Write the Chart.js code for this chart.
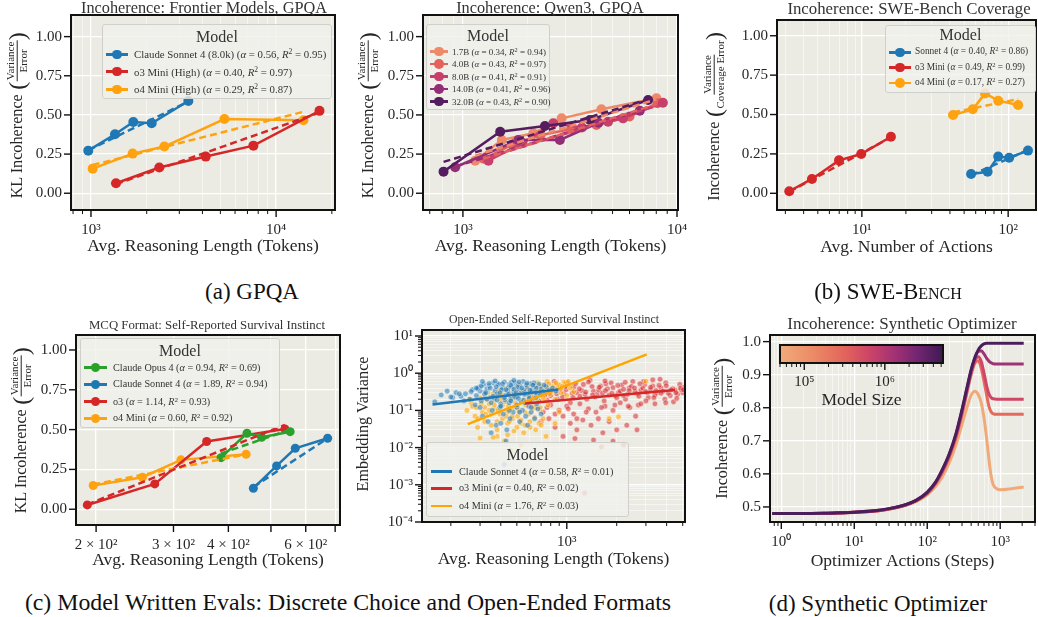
<!DOCTYPE html>
<html>
<head>
<meta charset="utf-8">
<title>Incoherence figure</title>
<script src="https://cdn.jsdelivr.net/npm/chart.js@4.4.1/dist/chart.umd.min.js"></script>
<style>
  html,body{margin:0;padding:0;background:#fff;}
  body{position:relative;width:1038px;height:617px;overflow:hidden;font-family:'Liberation Serif','Times New Roman',serif;color:#262626;}
  canvas{position:absolute;}
  .ttl{position:absolute;white-space:nowrap;transform:translate(-50%,-50%);color:#333;line-height:1;}
  .cap{position:absolute;white-space:nowrap;transform:translate(-50%,-50%);color:#111;font-size:23px;line-height:1;}
  .yt{position:absolute;white-space:nowrap;transform:translate(-50%,-50%) rotate(-90deg);display:flex;align-items:center;font-size:16.2px;line-height:1.2;color:#262626;}
  .fr{display:inline-flex;flex-direction:column;align-items:center;font-size:11px;line-height:1.05;}
  .fr .n{border-bottom:1.3px solid #262626;padding:0 1px 0.5px;}
  .par{font-size:24px;line-height:1;margin:0 0.5px;font-weight:300;}
  .leg{position:absolute;background:rgba(240,240,235,0.82);border:1px solid #cfcfcb;border-radius:3px;box-sizing:border-box;}
  .leg div{position:absolute;}
  .lt{white-space:nowrap;transform:translate(-50%,-50%);color:#333;line-height:1;}
  .lr{white-space:nowrap;transform:translateY(-50%);color:#333;line-height:1;}
  .lr sup{font-size:0.7em;line-height:0;vertical-align:0.45em;}
</style>
</head>
<body>
<script>
// ====================== DATA ======================
// (a) left: Incoherence, Frontier Models, GPQA
const p1Names = ['Claude Sonnet 4 (8.0k)', 'o3 Mini (High)', 'o4 Mini (High)'];
const p1Alpha = [0.56, 0.40, 0.29];
const p1R2 = [0.95, 0.97, 0.87];
const p1SonnetX = [967, 1348, 1693, 2128, 3357];
const p1SonnetY = [0.272, 0.377, 0.455, 0.447, 0.589];
const p1SonnetFit = [0.275, 0.585];
const p1O3X = [1365, 2339, 4168, 7540, 17150];
const p1O3Y = [0.064, 0.164, 0.234, 0.304, 0.526];
const p1O3Fit = [0.058, 0.515];
const p1O4X = [1021, 1679, 2490, 5259, 14060];
const p1O4Y = [0.157, 0.253, 0.298, 0.474, 0.466];
const p1O4Fit = [0.18, 0.52];

// (a) right: Incoherence, Qwen3, GPQA
const p2Names = ['1.7B', '4.0B', '8.0B', '14.0B', '32.0B'];
const p2Alpha = [0.34, 0.43, 0.41, 0.41, 0.43];
const p2R2 = [0.94, 0.97, 0.91, 0.96, 0.90];
const q17X = [1141, 1520, 2133, 2891, 4436, 8017];
const q17Y = [0.208, 0.340, 0.383, 0.478, 0.536, 0.606];
const q17Fit = [0.24, 0.60];
const q40X = [1250, 1700, 2300, 3200, 4207, 6000, 8100];
const q40Y = [0.22, 0.31, 0.37, 0.41, 0.436, 0.49, 0.575];
const q40Fit = [0.22, 0.57];
const q80X = [1316, 1900, 2643, 3600, 4765, 5598, 8590];
const q80Y = [0.208, 0.32, 0.447, 0.42, 0.457, 0.478, 0.578];
const q80Fit = [0.23, 0.57];
const q140X = [920, 1815, 2838, 4300, 6700];
const q140Y = [0.166, 0.34, 0.34, 0.45, 0.527];
const q140Fit = [0.17, 0.53];
const q320X = [812, 1493, 2416, 3920, 7330];
const q320Y = [0.138, 0.393, 0.429, 0.468, 0.595];
const q320Fit = [0.20, 0.60];

// (b) SWE-Bench coverage
const p3Names = ['Sonnet 4', 'o3 Mini', 'o4 Mini'];
const p3Alpha = [0.40, 0.49, 0.17];
const p3R2 = [0.86, 0.99, 0.27];
const p3SonnetX = [55.8, 72.4, 85.5, 101.6, 136.6];
const p3SonnetY = [0.123, 0.137, 0.233, 0.226, 0.271];
const p3SonnetFit = [0.115, 0.275];
const p3O3X = [3.19, 4.56, 6.98, 9.9, 15.8];
const p3O3Y = [0.013, 0.091, 0.209, 0.249, 0.359];
const p3O3Fit = [0.01, 0.355];
const p3O4X = [42, 57.3, 69.5, 85.5, 117];
const p3O4Y = [0.497, 0.533, 0.634, 0.588, 0.56];
const p3O4Fit = [0.514, 0.598];

// (c) left: MCQ format
const p4Names = ['Claude Opus 4', 'Claude Sonnet 4', 'o3', 'o4 Mini'];
const p4Alpha = [0.94, 1.89, 1.14, 0.60];
const p4R2 = [0.69, 0.94, 0.93, 0.92];
const p4OpusX = [385, 441, 476, 553];
const p4OpusY = [0.324, 0.477, 0.452, 0.487];
const p4OpusFit = [0.35, 0.50];
const p4SonnetX = [456, 515, 568, 673];
const p4SonnetY = [0.132, 0.272, 0.383, 0.446];
const p4SonnetFit = [0.14, 0.445];
const p4O3X = [191, 272, 357, 538];
const p4O3Y = [0.027, 0.159, 0.425, 0.504];
const p4O3Fit = [0.03, 0.53];
const p4O4X = [197, 255, 312, 439];
const p4O4Y = [0.149, 0.201, 0.310, 0.345];
const p4O4Fit = [0.155, 0.345];
const p4TickVals = [200, 300, 400, 600];
const p4TickLabels = ['2 × 10²', '3 × 10²', '4 × 10²', '6 × 10²'];

// (c) right: open-ended embedding variance (scatter + trend)
const p5Names = ['Claude Sonnet 4', 'o3 Mini', 'o4 Mini'];
const p5Alpha = [0.58, 0.40, 1.76];
const p5R2 = [0.01, 0.02, 0.03];
const p5SonnetX = [160,175,190,205,215,230,245,260,270,285,295,305,315,320,330,340,350,360,370,380,
  390,400,410,420,430,440,450,460,470,480,490,500,510,520,530,545,560,575,590,605,
  620,640,660,680,700,720,750,780,820,860,310,335,355,375,395,415,435,455,475,500,
  520,540,565,590,610,640,670,700,430,420,
  300,320,345,365,385,405,425,445,465,485,505,525,550,570,595,615,635,655,690,730,
  280,350,400,450,500,550,600,650,370,480,
  290,305,325,340,360,375,395,410,430,445,460,480,495,515,535,555,575,600,625,650,
  330,380,420,460,510,560,610,660,300,450,265,285,240,225,200,310,520,580,350,400];
const p5SonnetY = [0.17,0.26,0.33,0.22,0.30,0.24,0.28,0.20,0.36,0.25,0.42,0.18,0.50,0.30,0.38,0.46,0.22,0.55,0.34,0.28,
  0.48,0.15,0.40,0.58,0.26,0.33,0.50,0.20,0.44,0.31,0.55,0.24,0.38,0.47,0.17,0.60,0.30,0.42,0.25,0.52,
  0.36,0.45,0.28,0.50,0.38,0.32,0.44,0.35,0.40,0.33,0.07,0.05,0.10,0.04,0.12,0.08,0.03,0.06,0.09,0.12,
  0.05,0.10,0.07,0.13,0.09,0.06,0.11,0.08,0.015,0.0035,
  0.33,0.27,0.40,0.21,0.52,0.36,0.19,0.41,0.57,0.23,0.44,0.29,0.35,0.49,0.21,0.31,0.55,0.40,0.27,0.48,
  0.14,0.16,0.13,0.16,0.14,0.19,0.17,0.22,0.62,0.64,
  0.38,0.45,0.30,0.53,0.24,0.43,0.30,0.52,0.36,0.27,0.47,0.37,0.30,0.58,0.40,0.27,0.54,0.35,0.48,0.30,
  0.20,0.19,0.22,0.18,0.21,0.16,0.12,0.15,0.12,0.10,0.32,0.40,0.18,0.28,0.23,0.60,0.09,0.04,0.025,0.045];
const p5O3X = [560,600,640,680,720,760,800,840,880,920,960,1000,1050,1100,1150,1200,1260,1320,1380,1450,
  1520,1600,1680,1760,1850,1950,2050,2150,2260,2380,2500,2650,2800,2950,3100,3300,3500,3700,3950,4200,
  4500,4800,5000,5100,650,720,800,900,1000,1100,1200,1350,1500,1700,1900,2100,2400,2700,3000,3400,3900,4400,
  700,780,850,950,1050,1150,1250,1400,1550,1650,1800,2000,2300,2600,1120,1620,1280,1900,950,2200,3650,
  620,700,740,820,860,940,990,1080,1130,1230,1290,1420,1480,1560,1640,1720,1800,1900,2000,2100,
  2200,2320,2450,2580,2720,2870,3050,3200,3400,3600,3800,4100,4350,4650,4900,1350,1700,2250,2900,3300,
  580,660,760,870,980,1090,1190,1300,1430,1570,1710,1870,2030,2200,2380,2560,2760,2980,3200,3450,
  3700,3980,4250,4550,4850,5050,760,1020,1310,1620,1950,2350,2800,3350,3950,4600,850,1150,2650,1450];
const p5O3Y = [0.30,0.22,0.45,0.18,0.35,0.50,0.25,0.60,0.20,0.38,0.28,0.55,0.16,0.42,0.30,0.24,0.50,0.20,0.65,0.33,
  0.27,0.45,0.18,0.38,0.55,0.25,0.30,0.48,0.20,0.40,0.60,0.28,0.35,0.50,0.22,0.45,0.30,0.40,0.55,0.25,
  0.35,0.50,0.30,0.42,0.12,0.09,0.14,0.10,0.13,0.08,0.15,0.11,0.09,0.13,0.10,0.16,0.12,0.14,0.18,0.15,0.20,0.17,
  0.05,0.06,0.035,0.07,0.045,0.03,0.055,0.04,0.06,0.025,0.05,0.03,0.04,0.07,0.0175,0.0104,0.0006,0.015,0.02,0.012,0.69,
  0.21,0.40,0.26,0.33,0.47,0.23,0.36,0.29,0.52,0.34,0.27,0.44,0.23,0.35,0.29,0.52,0.26,0.41,0.22,0.33,
  0.37,0.27,0.44,0.32,0.24,0.40,0.30,0.36,0.26,0.47,0.33,0.29,0.38,0.27,0.36,0.58,0.62,0.57,0.60,0.66,
  0.40,0.31,0.19,0.28,0.44,0.22,0.38,0.31,0.26,0.42,0.34,0.29,0.47,0.25,0.34,0.40,0.52,0.32,0.42,0.34,
  0.29,0.46,0.36,0.30,0.40,0.36,0.12,0.11,0.09,0.12,0.14,0.13,0.15,0.22,0.16,0.21,0.08,0.06,0.03,0.016];
const p5O4X = [250,265,280,300,320,335,350,365,380,395,410,425,440,455,470,485,500,515,530,550,
  570,590,610,630,650,670,690,710,735,760,790,820,850,880,920,960,1000,1050,
  290,320,350,380,410,440,470,500,530,560,600,640,680,720,380,420,460,360,300,550,650,750,850,2050,3000,1800,
  270,310,340,370,400,430,460,490,520,560,590,620,660,700,740,780,830,900,980,330,
  360,390,450,480,510,540,575,615,700,1100,
  260,285,305,325,345,365,385,405,425,445,465,490,515,540,565,590,620,650,680,720,
  760,800,860,940,1020,290,340,395,450,505,560,620,690,770,480,530,440,600,700,900];
const p5O4Y = [0.10,0.16,0.07,0.22,0.12,0.30,0.08,0.18,0.05,0.25,0.14,0.40,0.09,0.20,0.06,0.33,0.12,0.50,0.045,0.16,
  0.27,0.08,0.40,0.13,0.22,0.55,0.10,0.35,0.18,0.60,0.28,0.45,0.20,0.50,0.30,0.58,0.25,0.40,
  0.035,0.05,0.04,0.03,0.06,0.045,0.07,0.035,0.055,0.04,0.05,0.065,0.045,0.06,0.02,0.015,0.0085,0.019,0.018,0.025,0.03,0.02,0.045,0.067,0.61,0.06,
  0.13,0.09,0.15,0.11,0.19,0.07,0.24,0.16,0.10,0.30,0.21,0.26,0.17,0.45,0.38,0.52,0.35,0.48,0.55,0.20,
  0.28,0.35,0.30,0.26,0.38,0.32,0.44,0.50,0.25,0.32,
  0.20,0.12,0.15,0.08,0.23,0.14,0.10,0.28,0.17,0.13,0.11,0.22,0.09,0.19,0.14,0.33,0.17,0.40,0.30,0.22,
  0.42,0.36,0.55,0.45,0.60,0.06,0.10,0.08,0.05,0.07,0.09,0.11,0.12,0.14,0.028,0.012,0.022,0.035,0.04,0.09];
const p5SonnetTrendX = [155, 890], p5SonnetTrendY = [0.145, 0.366];
const p5O3TrendX = [561, 4487], p5O3TrendY = [0.154, 0.351];
const p5O4TrendX = [253, 3034], p5O4TrendY = [0.0426, 3.21];

// (d) synthetic optimizer (five model sizes, smallest A to largest E)
const p6X = [0.75,1,2,3,5,10,20,30,50,70,100,130,160,200,250,300,350,400,450,500,550,600,650,700,750,800,900,1000,1500,2100];
const p6SizeA = [0.48,0.48,0.48,0.48,0.481,0.483,0.488,0.493,0.504,0.516,0.537,0.562,0.59,0.633,0.69,0.75,0.80,0.838,0.85,0.84,0.815,0.77,0.71,0.645,0.595,0.568,0.555,0.552,0.556,0.56];
const p6SizeB = [0.48,0.48,0.48,0.48,0.481,0.484,0.488,0.494,0.505,0.518,0.54,0.57,0.603,0.65,0.712,0.78,0.845,0.90,0.935,0.942,0.92,0.88,0.84,0.805,0.788,0.782,0.78,0.78,0.78,0.78];
const p6SizeC = [0.48,0.48,0.48,0.48,0.481,0.484,0.488,0.494,0.506,0.519,0.542,0.572,0.607,0.655,0.718,0.787,0.852,0.907,0.943,0.954,0.94,0.905,0.868,0.842,0.831,0.827,0.826,0.826,0.826,0.826];
const p6SizeD = [0.48,0.48,0.48,0.48,0.481,0.484,0.489,0.495,0.506,0.519,0.543,0.574,0.61,0.658,0.722,0.792,0.857,0.912,0.95,0.97,0.972,0.963,0.95,0.941,0.936,0.933,0.932,0.932,0.932,0.932];
const p6SizeE = [0.48,0.48,0.48,0.481,0.482,0.484,0.489,0.495,0.507,0.52,0.545,0.575,0.612,0.66,0.725,0.795,0.86,0.915,0.952,0.975,0.987,0.993,0.995,0.995,0.995,0.995,0.995,0.995,0.995,0.995];
const cbMin = 5.0e4, cbMax = 5.27e6;

// ====================== STYLE / HELPERS ======================
const SERIF = "'Liberation Serif','Times New Roman',serif";
const INK = '#262626';
const PLOT_BG = '#ebebe4';
const BLUE = '#1f77b4', RED = '#d62728', ORANGE = '#ffa20f', GREEN = '#2ca02c';
const QWEN = ['#ef8a68', '#e3625c', '#c83f6b', '#932d76', '#551d5f'];
const OPT = ['#f0aa7a', '#e5695c', '#cf4767', '#9e3376', '#4a1e5b'];
const CB_STOPS = [[0, '#f1ab7b'], [0.2, '#ec8b66'], [0.4, '#e2645b'], [0.55, '#cc4466'], [0.7, '#a33274'], [0.85, '#702571'], [1, '#3e1a51']];

const SUP = {'-':'⁻','0':'⁰','1':'¹','2':'²','3':'³','4':'⁴','5':'⁵','6':'⁶','7':'⁷','8':'⁸','9':'⁹'};
const pow10 = v => '10' + String(Math.round(Math.log10(v))).split('').map(c => SUP[c]).join('');
const pts = (xs, ys) => xs.map((x, i) => ({ x, y: ys[i] }));
const ends = xs => [xs[0], xs[xs.length - 1]];

function logTicks(min, max, allMajor) {
  const t = [];
  for (let k = Math.floor(Math.log10(min)); k <= Math.floor(Math.log10(max)); k++) {
    for (let d = 1; d <= 9; d++) {
      const v = d * Math.pow(10, k);
      if (v >= min && v <= max * 1.000001) t.push({ value: v, major: !!allMajor || d === 1 });
    }
  }
  return t;
}
const linTicks = vals => vals.map(v => ({ value: v, major: true }));

function axis(type, o) {
  return {
    type, min: o.min, max: o.max,
    afterBuildTicks: s => { s.ticks = o.ticks(); },
    ticks: { autoSkip: false, maxRotation: 0, minRotation: 0, padding: o.pad, color: INK,
             font: { family: SERIF, size: o.fs || 15 }, callback: o.cb },
    grid: { display: o.grid !== false, drawTicks: false,
            color: c => (c.tick && c.tick.major) ? '#ffffff' : 'rgba(255,255,255,0.75)',
            lineWidth: c => (c.tick && c.tick.major) ? 1.3 : 0.7 },
    border: { display: false },
    title: o.title ? { display: true, text: o.title, color: INK, font: { family: SERIF, size: 17.5 }, padding: { top: 0, bottom: 0 } } : { display: false }
  };
}

function bgPlugin(fill) {
  return { id: 'bgfill', beforeDraw(chart) {
    const a = chart.chartArea, ctx = chart.ctx;
    ctx.save();
    if (Array.isArray(fill)) {
      const gr = ctx.createLinearGradient(a.left, 0, a.right, 0);
      fill.forEach(([p, c]) => gr.addColorStop(p, c));
      ctx.fillStyle = gr;
    } else ctx.fillStyle = fill;
    ctx.fillRect(a.left, a.top, a.right - a.left, a.bottom - a.top);
    ctx.restore();
  } };
}
const tickPlugin = { id: 'tickmarks', afterDraw(chart) {
  const ctx = chart.ctx, a = chart.chartArea;
  ctx.save();
  ctx.strokeStyle = '#111';
  Object.values(chart.scales).forEach(s => {
    if (s.options.display === false) return;
    s.ticks.forEach(t => {
      const p = s.getPixelForValue(t.value);
      const len = t.major ? 7 : 4;
      ctx.lineWidth = t.major ? 1.4 : 1;
      ctx.beginPath();
      if (s.isHorizontal()) {
        if (p < a.left - 0.5 || p > a.right + 0.5) return;
        ctx.moveTo(p, a.bottom); ctx.lineTo(p, a.bottom + len);
      } else {
        if (p < a.top - 0.5 || p > a.bottom + 0.5) return;
        ctx.moveTo(a.left, p); ctx.lineTo(a.left - len, p);
      }
      ctx.stroke();
    });
  });
  ctx.lineWidth = 2;
  ctx.strokeRect(a.left, a.top, a.right - a.left, a.bottom - a.top);
  ctx.restore();
} };

function makeChart(g, datasets, xs, ys) {
  const PT = 30, PR = 30;
  const c = document.createElement('canvas');
  const W = Math.round(g.yw + (g.R - g.L) + PR), H = Math.round(PT + (g.B - g.T) + g.xh);
  c.width = W; c.height = H;
  Object.assign(c.style, { left: (g.L - g.yw) + 'px', top: (g.T - PT) + 'px', width: W + 'px', height: H + 'px' });
  document.body.appendChild(c);
  xs.afterFit = s => { s.height = g.xh; };
  ys.afterFit = s => { s.width = g.yw; };
  return new Chart(c, {
    type: 'line',
    data: { datasets },
    options: {
      responsive: false, animation: false, devicePixelRatio: 1, events: [],
      layout: { padding: { left: 0, top: PT, right: PR, bottom: 0 } },
      plugins: { legend: { display: false }, tooltip: { enabled: false } },
      scales: { x: xs, y: ys }
    },
    plugins: [bgPlugin(PLOT_BG), tickPlugin]
  });
}

const marked = (xs, ys, color, r) => ({ data: pts(xs, ys), borderColor: color, backgroundColor: color,
  pointBackgroundColor: color, pointBorderColor: color, pointBorderWidth: 0, pointRadius: r || 5,
  borderWidth: 2.5, order: 2 });
const dashed = (xs, ys, color) => ({ data: pts(xs, ys), borderColor: color, borderWidth: 2.5,
  borderDash: [7, 4], pointRadius: 0, order: 1 });
const trend = (xs, ys, color) => ({ data: pts(xs, ys), borderColor: color, borderWidth: 2.5, pointRadius: 0, order: 1 });
const scat = (xs, ys, rgba) => ({ data: pts(xs, ys), showLine: false, pointRadius: 2.8,
  pointBackgroundColor: rgba, pointBorderColor: 'rgba(255,255,255,0.75)', pointBorderWidth: 0.6, order: 3 });
const curve = (xs, ys, color) => ({ data: pts(xs, ys), borderColor: color, borderWidth: 3, pointRadius: 0,
  cubicInterpolationMode: 'monotone' });

const fmt2 = v => v.toFixed(2);
const fmt1 = v => v.toFixed(1);
const majorLabel = (v, i, t) => (t[i] && t[i].major) ? pow10(v) : '';

function addDiv(cls, html, x, y, fs) {
  const d = document.createElement('div');
  d.className = cls; d.innerHTML = html;
  d.style.left = x + 'px'; d.style.top = y + 'px';
  if (fs) d.style.fontSize = fs + 'px';
  document.body.appendChild(d);
  return d;
}
function yTitle(x, y, main, num, den) {
  const html = num ? `<span>${main}&nbsp;</span><span class="par">(</span><span class="fr"><span class="n">${num}</span><span>${den}</span></span><span class="par">)</span>` : `<span>${main}</span>`;
  addDiv('yt', html, x, y);
}
const rowHtml = (name, a, r) => `${name} (<i>α</i> = ${a.toFixed(2)}, <i>R</i><sup>2</sup> = ${r.toFixed(2)})`;
function legend(g, names, alphas, r2s, colors, fs, marker) {
  const box = document.createElement('div');
  box.className = 'leg';
  Object.assign(box.style, { left: g.x + 'px', top: g.y + 'px', width: g.w + 'px', height: g.h + 'px' });
  const t = document.createElement('div');
  t.className = 'lt'; t.textContent = 'Model';
  Object.assign(t.style, { left: (g.w / 2 - 1) + 'px', top: (g.ty - g.y) + 'px', fontSize: '16px' });
  box.appendChild(t);
  names.forEach((n, i) => {
    const cy = g.ry[i] - g.y - 1;
    const ln = document.createElement('div');
    Object.assign(ln.style, { left: (g.lx0 - g.x) + 'px', top: (cy - 1.25) + 'px', width: (g.lx1 - g.lx0) + 'px', height: '2.5px', background: colors[i] });
    box.appendChild(ln);
    if (marker) {
      const m = document.createElement('div');
      const cx = (g.lx0 + g.lx1) / 2 - g.x;
      Object.assign(m.style, { left: (cx - marker) + 'px', top: (cy - marker) + 'px', width: 2 * marker + 'px', height: 2 * marker + 'px', borderRadius: '50%', background: colors[i] });
      box.appendChild(m);
    }
    const tx = document.createElement('div');
    tx.className = 'lr'; tx.innerHTML = rowHtml(n, alphas[i], r2s[i]);
    Object.assign(tx.style, { left: (g.tx - g.x) + 'px', top: cy + 'px', fontSize: fs + 'px' });
    box.appendChild(tx);
  });
  document.body.appendChild(box);
}

// ====================== PANELS ======================
// Panel 1
makeChart({ L: 71, R: 335, T: 15, B: 210, yw: 71, xh: 47 }, [
  dashed(ends(p1SonnetX), p1SonnetFit, BLUE), dashed(ends(p1O3X), p1O3Fit, RED), dashed(ends(p1O4X), p1O4Fit, ORANGE),
  marked(p1SonnetX, p1SonnetY, BLUE), marked(p1O3X, p1O3Y, RED), marked(p1O4X, p1O4Y, ORANGE)
], axis('logarithmic', { min: 780, max: 20800, ticks: () => logTicks(780, 20800), pad: 11, cb: majorLabel, title: 'Avg. Reasoning Length (Tokens)' }),
   axis('linear', { min: -0.107, max: 1.138, ticks: () => linTicks([0, 0.25, 0.5, 0.75, 1.0]), pad: 9, cb: fmt2 }));

// Panel 2
makeChart({ L: 423, R: 678, T: 15, B: 210, yw: 60, xh: 47 }, [
  dashed(ends(q17X), q17Fit, QWEN[0]), dashed(ends(q40X), q40Fit, QWEN[1]), dashed(ends(q80X), q80Fit, QWEN[2]),
  dashed(ends(q140X), q140Fit, QWEN[3]), dashed(ends(q320X), q320Fit, QWEN[4]),
  marked(q320X, q320Y, QWEN[4]), marked(q140X, q140Y, QWEN[3]), marked(q80X, q80Y, QWEN[2]),
  marked(q40X, q40Y, QWEN[1]), marked(q17X, q17Y, QWEN[0])
], axis('logarithmic', { min: 651, max: 10108, ticks: () => logTicks(651, 10108), pad: 11, cb: majorLabel, title: 'Avg. Reasoning Length (Tokens)' }),
   axis('linear', { min: -0.107, max: 1.138, ticks: () => linTicks([0, 0.25, 0.5, 0.75, 1.0]), pad: 9, cb: fmt2 }));

// Panel 3
makeChart({ L: 777, R: 1036, T: 20, B: 210, yw: 60, xh: 48 }, [
  dashed(ends(p3SonnetX), p3SonnetFit, BLUE), dashed(ends(p3O3X), p3O3Fit, RED), dashed(ends(p3O4X), p3O4Fit, ORANGE),
  marked(p3SonnetX, p3SonnetY, BLUE), marked(p3O3X, p3O3Y, RED), marked(p3O4X, p3O4Y, ORANGE)
], axis('logarithmic', { min: 2.63, max: 155, ticks: () => logTicks(2.63, 155), pad: 11, cb: majorLabel, title: 'Avg. Number of Actions' }),
   axis('linear', { min: -0.106, max: 1.10, ticks: () => linTicks([0, 0.25, 0.5, 0.75, 1.0]), pad: 9, cb: fmt2 }));

// Panel 4
makeChart({ L: 76, R: 340, T: 335, B: 525, yw: 70, xh: 46 }, [
  dashed(ends(p4OpusX), p4OpusFit, GREEN), dashed(ends(p4SonnetX), p4SonnetFit, BLUE),
  dashed(ends(p4O3X), p4O3Fit, RED), dashed(ends(p4O4X), p4O4Fit, ORANGE),
  marked(p4OpusX, p4OpusY, GREEN, 4.5), marked(p4SonnetX, p4SonnetY, BLUE, 4.5),
  marked(p4O3X, p4O3Y, RED, 4.5), marked(p4O4X, p4O4Y, ORANGE, 4.5)
], axis('logarithmic', { min: 180, max: 718, ticks: () => logTicks(180, 718, true), pad: 11,
      cb: v => { const i = p4TickVals.findIndex(t => Math.abs(t - v) < 1e-6); return i >= 0 ? p4TickLabels[i] : ''; },
      title: 'Avg. Reasoning Length (Tokens)' }),
   axis('linear', { min: -0.099, max: 1.094, ticks: () => linTicks([0, 0.25, 0.5, 0.75, 1.0]), pad: 9, cb: fmt2 }));

// Panel 5
makeChart({ L: 422, R: 685, T: 330, B: 522, yw: 60, xh: 48 }, [
  trend(p5SonnetTrendX, p5SonnetTrendY, BLUE), trend(p5O3TrendX, p5O3TrendY, RED), trend(p5O4TrendX, p5O4TrendY, '#ffa500'),
  scat(p5SonnetX, p5SonnetY, 'rgba(31,119,180,0.55)'),
  scat(p5O4X, p5O4Y, 'rgba(255,165,0,0.6)'),
  scat(p5O3X, p5O3Y, 'rgba(214,39,40,0.55)')
], axis('logarithmic', { min: 134, max: 5160, ticks: () => logTicks(134, 5160), pad: 11, cb: majorLabel, title: 'Avg. Reasoning Length (Tokens)' }),
   axis('logarithmic', { min: 1e-4, max: 14.5, ticks: () => logTicks(1e-4, 14.5), pad: 9, cb: majorLabel }));

// Panel 6
makeChart({ L: 770, R: 1035, T: 335, B: 522, yw: 55, xh: 50 }, [
  curve(p6X, p6SizeE, OPT[4]), curve(p6X, p6SizeD, OPT[3]), curve(p6X, p6SizeC, OPT[2]),
  curve(p6X, p6SizeB, OPT[1]), curve(p6X, p6SizeA, OPT[0])
], axis('logarithmic', { min: 0.73, max: 3000, ticks: () => logTicks(0.73, 3000), pad: 11, cb: majorLabel, title: 'Optimizer Actions (Steps)' }),
   axis('linear', { min: 0.4545, max: 1.02, ticks: () => linTicks([0.5, 0.6, 0.7, 0.8, 0.9, 1.0]), pad: 9, cb: fmt1 }));

// Colorbar (Model Size) inside panel 6
(function () {
  const L = 780, R = 943, T = 345, B = 363, padL = 10, PT = 30, PR = 30, XH = 48;
  const c = document.createElement('canvas');
  const W = padL + (R - L) + PR, H = PT + (B - T) + XH;
  c.width = W; c.height = H;
  Object.assign(c.style, { left: (L - padL) + 'px', top: (T - PT) + 'px', width: W + 'px', height: H + 'px' });
  document.body.appendChild(c);
  const xs = axis('logarithmic', { min: cbMin, max: cbMax, ticks: () => logTicks(cbMin, cbMax), pad: 10, cb: majorLabel, title: 'Model Size', grid: false });
  xs.afterFit = s => { s.height = XH; };
  new Chart(c, {
    type: 'line', data: { datasets: [] },
    options: { responsive: false, animation: false, devicePixelRatio: 1, events: [],
      layout: { padding: { left: padL, top: PT, right: PR, bottom: 0 } },
      plugins: { legend: { display: false }, tooltip: { enabled: false } },
      scales: { x: xs, y: { display: false, min: 0, max: 1 } } },
    plugins: [bgPlugin(CB_STOPS), tickPlugin]
  });
})();

// ====================== TEXT OVERLAYS ======================
addDiv('ttl', 'Incoherence: Frontier Models, GPQA', 204, 7.5, 16.3);
addDiv('ttl', 'Incoherence: Qwen3, GPQA', 550, 7.5, 16.3);
addDiv('ttl', 'Incoherence: SWE-Bench Coverage', 909, 9, 16.8);
addDiv('ttl', 'MCQ Format: Self-Reported Survival Instinct', 207, 325, 12.8);
addDiv('ttl', 'Open-Ended Self-Reported Survival Instinct', 554, 320, 11.8);
addDiv('ttl', 'Incoherence: Synthetic Optimizer', 902, 323, 17);

yTitle(17, 115, 'KL Incoherence', 'Variance', 'Error');
yTitle(368, 115, 'KL Incoherence', 'Variance', 'Error');
yTitle(714, 116, 'Incoherence', 'Variance', 'Coverage Error');
yTitle(21, 430, 'KL Incoherence', 'Variance', 'Error');
yTitle(364, 424, 'Embedding Variance');
yTitle(722, 428, 'Incoherence', 'Variance', 'Error');

legend({ x: 102, y: 24, w: 230, h: 75, ty: 36, ry: [54.3, 71.7, 89.3], lx0: 105, lx1: 127, tx: 133 },
  p1Names, p1Alpha, p1R2, [BLUE, RED, ORANGE], 10.8, 4.8);
legend({ x: 426, y: 24, w: 124, h: 86, ty: 34.5, ry: [51.5, 64, 76.5, 89, 101.5], lx0: 429, lx1: 447, tx: 451 },
  p2Names, p2Alpha, p2R2, QWEN, 9, 4.8);
legend({ x: 885, y: 25, w: 151, h: 68, ty: 33.5, ry: [52.3, 67.7, 83], lx0: 888, lx1: 910, tx: 914 },
  p3Names, p3Alpha, p3R2, [BLUE, RED, ORANGE], 9.4, 4.8);
legend({ x: 80, y: 338, w: 200, h: 90, ty: 349.5, ry: [367.7, 384.3, 401.7, 418.3], lx0: 83, lx1: 106, tx: 112 },
  p4Names, p4Alpha, p4R2, [GREEN, BLUE, RED, ORANGE], 10.2, 4.6);
legend({ x: 426, y: 442, w: 203, h: 75, ty: 453.5, ry: [471.7, 488.3, 506], lx0: 430, lx1: 451, tx: 458 },
  p5Names, p5Alpha, p5R2, [BLUE, RED, '#ffa500'], 10.2, 0);

addDiv('cap', '(a) GPQA', 252, 291);
addDiv('cap', '(b) <span style="font-variant:small-caps">SWE-Bench</span>', 888, 291);
addDiv('cap', '(c) Model Written Evals: Discrete Choice and Open-Ended Formats', 348, 603, 23.8);
addDiv('cap', '(d) Synthetic Optimizer', 878, 603);
</script>
</body>
</html>
